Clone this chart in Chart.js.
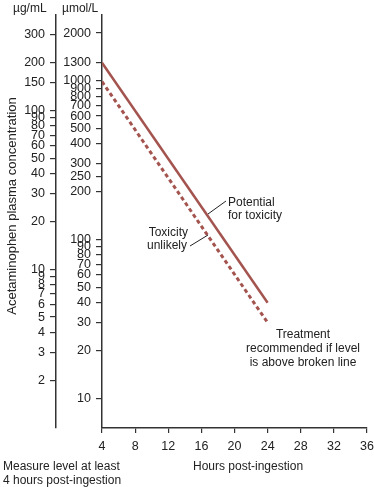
<!DOCTYPE html>
<html>
<head>
<meta charset="utf-8">
<script src="https://cdn.jsdelivr.net/npm/chart.js@4.4.0/dist/chart.umd.min.js"></script>
<style>
  html, body { margin: 0; padding: 0; background: #fff; }
  canvas { display: block; }
</style>
</head>
<body>
<canvas id="c" width="374" height="487"></canvas>
<script>
// ---- data ----
const hours = [4, 24];
const potentialToxicity = [1300, 40];   // µmol/L, solid line
const treatmentLine = [990, 30];        // µmol/L, broken line
const xTicks = [4, 8, 12, 16, 20, 24, 28, 32, 36];
const ugTicks = [300, 200, 150, 100, 90, 80, 70, 60, 50, 40, 30, 20, 10, 9, 8, 7, 6, 5, 4, 3, 2];
const umolTicks = [2000, 1300, 1000, 900, 800, 700, 600, 500, 400, 300, 250, 200, 100, 90, 80, 70, 60, 50, 40, 30, 20, 10];

const FONT = "'Liberation Sans', Arial, Helvetica, sans-serif";
const TXT = '#222';
const AX = '#333';
const LINE = '#a3544f';

const annot = {
  id: 'annot',
  afterDraw(chart) {
    const c = chart.ctx;
    c.save();
    c.fillStyle = TXT;
    c.font = '12px ' + FONT;
    c.textBaseline = 'middle';
    c.textAlign = 'left';
    c.fillText('\u00B5g/mL', 13, 9);
    c.fillText('\u00B5mol/L', 62, 9);
    c.fillText('Measure level at least', 3, 467);
    c.fillText('4 hours post-ingestion', 3, 481);
    c.fillText('Hours post-ingestion', 193, 467);
    c.fillText('Potential', 228, 203);
    c.fillText('for toxicity', 228, 216);
    c.textAlign = 'right';
    c.fillText('Toxicity', 188, 233);
    c.fillText('unlikely', 187, 246);
    c.textAlign = 'center';
    c.fillText('Treatment', 303, 335);
    c.fillText('recommended if level', 303, 349);
    c.fillText('is above broken line', 303, 363);
    // leader lines
    c.strokeStyle = '#222';
    c.lineWidth = 1;
    c.beginPath();
    c.moveTo(208, 214); c.lineTo(226, 201);
    c.moveTo(190, 246); c.lineTo(208, 235);
    c.stroke();
    // y title
    c.translate(12, 206);
    c.rotate(-Math.PI / 2);
    c.font = '13px ' + FONT;
    c.textAlign = 'center';
    c.fillText('Acetaminophen plasma concentration', 0, 0);
    c.restore();
  }
};

new Chart(document.getElementById('c'), {
  type: 'line',
  data: {
    datasets: [
      {
        data: hours.map((h, i) => ({ x: h, y: potentialToxicity[i] })),
        borderColor: LINE, borderWidth: 2.5, pointRadius: 0, yAxisID: 'umol', fill: false
      },
      {
        data: hours.map((h, i) => ({ x: h, y: treatmentLine[i] })),
        borderColor: LINE, borderWidth: 3, borderDash: [4, 3], pointRadius: 0, yAxisID: 'umol', fill: false
      }
    ]
  },
  options: {
    responsive: false,
    animation: false,
    layout: { padding: { top: 15, right: 7, left: 0, bottom: 0 } },
    plugins: { legend: { display: false }, tooltip: { enabled: false } },
    scales: {
      x: {
        type: 'linear', min: 4, max: 36,
        afterBuildTicks: s => { s.ticks = xTicks.map(v => ({ value: v })); },
        afterFit: s => { s.height = 59; s.paddingLeft = 0; s.paddingRight = 0; },
        ticks: { color: TXT, font: { family: FONT, size: 12.5 }, padding: 6, maxRotation: 0 },
        grid: { drawOnChartArea: false, drawTicks: true, tickLength: 5, color: AX, lineWidth: 1.2 },
        border: { display: true, color: AX, width: 1.5 }
      },
      umol: {
        type: 'logarithmic', position: 'left', min: 6.5, max: 2600, weight: 1,
        afterBuildTicks: s => { s.ticks = umolTicks.map(v => ({ value: v })); },
        afterFit: s => { s.width = 46; s.paddingTop = 0; s.paddingBottom = 0; },
        ticks: { color: TXT, font: { family: FONT, size: 12.5 }, padding: 5, autoSkip: false,
                 callback: v => String(v) },
        grid: { drawOnChartArea: false, drawTicks: true, tickLength: 6, color: AX, lineWidth: 1.2 },
        border: { display: true, color: AX, width: 1.5 }
      },
      ug: {
        type: 'logarithmic', position: 'left', min: 1, max: 400, weight: 2,
        afterBuildTicks: s => { s.ticks = ugTicks.map(v => ({ value: v })); },
        afterFit: s => { s.width = 56; s.paddingTop = 0; s.paddingBottom = 0; },
        ticks: { color: TXT, font: { family: FONT, size: 12.5 }, padding: 5, autoSkip: false,
                 callback: v => String(v) },
        grid: { drawOnChartArea: false, drawTicks: true, tickLength: 6, color: AX, lineWidth: 1.2 },
        border: { display: true, color: AX, width: 1.5 }
      }
    }
  },
  plugins: [annot]
});
</script>
</body>
</html>
